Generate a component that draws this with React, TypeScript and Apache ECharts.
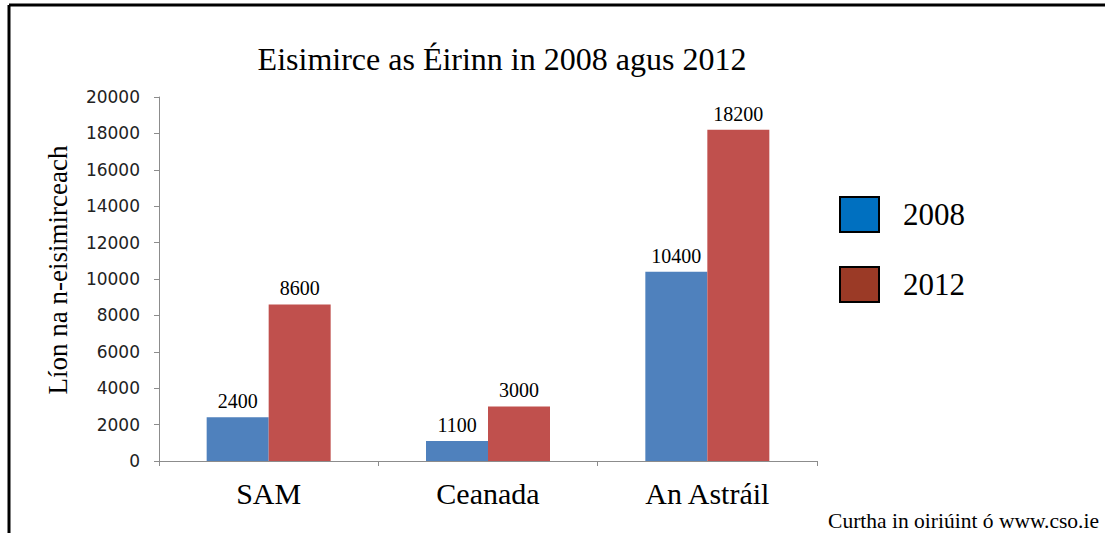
import React, { useEffect, useRef } from "react";
import * as echarts from "echarts";

const categories = ["SAM", "Ceanada", "An Astráil"];
const values2008 = [2400, 1100, 10400];
const values2012 = [8600, 3000, 18200];
const seriesNames = ["2008", "2012"];
const titleText = "Eisimirce as Éirinn in 2008 agus 2012";
const yAxisName = "Líon na n-eisimirceach";
const sourceText = "Curtha in oiriúint ó www.cso.ie";

export default function App() {
  const ref = useRef<HTMLDivElement>(null);
  useEffect(() => {
    if (!ref.current) return;
    const chart = echarts.init(ref.current, null, { renderer: "svg" });
    const serif = "'Liberation Serif', 'Times New Roman', serif";
    const labelStyle = {
      show: true,
      position: "top" as const,
      distance: 6,
      color: "#000",
      fontFamily: serif,
      fontSize: 20,
    };
    chart.setOption({
      animation: false,
      backgroundColor: "#fff",
      title: {
        text: titleText,
        left: 497,
        top: 38,
        textAlign: "center",
        textStyle: { fontFamily: serif, fontSize: 32, fontWeight: "normal", color: "#000" },
      },
      legend: {
        orient: "vertical",
        left: 834,
        top: 191,
        itemWidth: 39,
        itemHeight: 35,
        itemGap: 33,
        textStyle: { fontFamily: serif, fontSize: 31, color: "#000", padding: [0, 0, 0, 19] },
        data: [
          { name: seriesNames[0], icon: "rect", itemStyle: { color: "#0070C0", borderColor: "#000", borderWidth: 2 } },
          { name: seriesNames[1], icon: "rect", itemStyle: { color: "#9B3A26", borderColor: "#000", borderWidth: 2 } },
        ],
      },
      grid: { left: 159, right: 288, top: 97, bottom: 72 },
      xAxis: {
        type: "category",
        data: categories,
        axisLine: { lineStyle: { color: "#8c8c8c", width: 1 } },
        axisTick: { show: true, length: 5, lineStyle: { color: "#8c8c8c" } },
        axisLabel: { margin: 17, color: "#000", fontFamily: serif, fontSize: 30 },
      },
      yAxis: {
        type: "value",
        min: 0,
        max: 20000,
        interval: 2000,
        axisLine: { show: true, lineStyle: { color: "#8c8c8c", width: 1 } },
        axisTick: { show: true, length: 5, lineStyle: { color: "#8c8c8c" } },
        splitLine: { show: false },
        axisLabel: {
          margin: 19,
          color: "#222",
          fontFamily: "'DejaVu Sans', sans-serif",
          fontSize: 17,
          formatter: (v: number) => String(v),
        },
      },
      series: [
        {
          name: seriesNames[0],
          type: "bar",
          data: values2008,
          barWidth: 62,
          barGap: "0%",
          itemStyle: { color: "#4F81BD" },
          label: labelStyle,
        },
        {
          name: seriesNames[1],
          type: "bar",
          data: values2012,
          barWidth: 62,
          barGap: "0%",
          itemStyle: { color: "#C0504D" },
          label: labelStyle,
        },
      ],
      graphic: [
        { type: "line", shape: { x1: 9, y1: 5, x2: 1105, y2: 5 }, style: { stroke: "#000", lineWidth: 3 } },
        { type: "line", shape: { x1: 9, y1: 5, x2: 9, y2: 533 }, style: { stroke: "#000", lineWidth: 3 } },
        {
          type: "text",
          x: 58,
          y: 270,
          rotation: Math.PI / 2,
          style: {
            text: yAxisName,
            fontFamily: serif,
            fontSize: 27,
            fill: "#000",
            align: "center",
            verticalAlign: "middle",
          },
        },
        {
          type: "text",
          right: 6,
          top: 510,
          style: { text: sourceText, fontFamily: serif, fontSize: 21.5, fill: "#000" },
        },
      ],
    });
    return () => chart.dispose();
  }, []);
  return (
    <div
      ref={ref}
      style={{ position: "absolute", left: 0, top: 0, width: 1105, height: 533 }}
    />
  );
}
